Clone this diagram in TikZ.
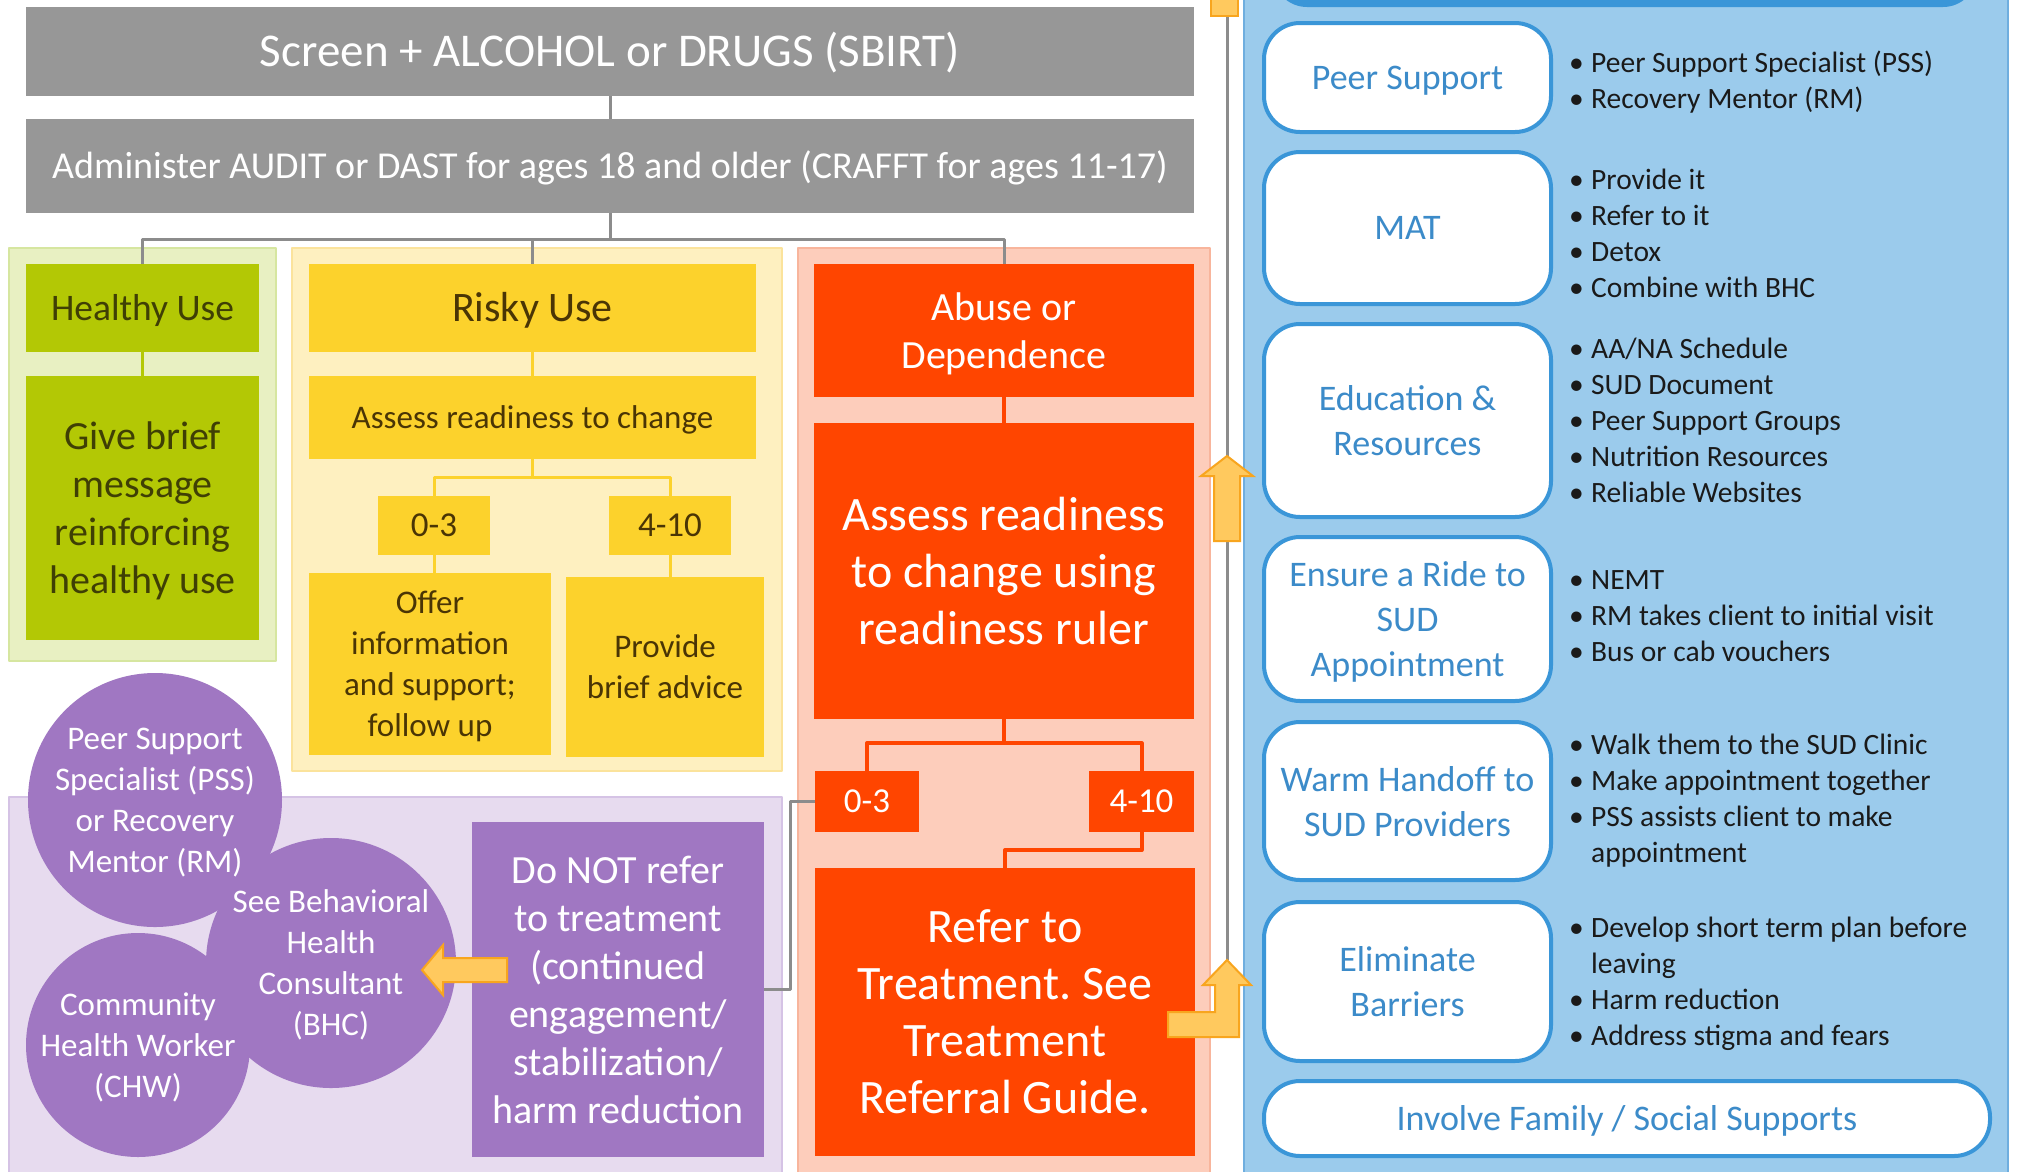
\documentclass[tikz,border=0pt]{standalone}
\usepackage{fontspec}
\setmainfont{Carlito}
\usepackage{xcolor}
\usetikzlibrary{positioning,calc}
\definecolor{sbgray}{HTML}{979797}
\definecolor{linegray}{HTML}{8C8C8C}
\definecolor{limegreen}{HTML}{B3C805}
\definecolor{palegreen}{HTML}{E8F0C2}
\definecolor{greenedge}{HTML}{D6E6A0}
\definecolor{olivetext}{HTML}{3F3F05}
\definecolor{sunyellow}{HTML}{FCD22C}
\definecolor{paleyellow}{HTML}{FEF0C0}
\definecolor{yellowedge}{HTML}{FBE39C}
\definecolor{risktext}{HTML}{4A3505}
\definecolor{hotorange}{HTML}{FF4500}
\definecolor{paleorange}{HTML}{FDCDBB}
\definecolor{orangeedge}{HTML}{F8B59C}
\definecolor{lilac}{HTML}{A077C2}
\definecolor{palelilac}{HTML}{E7DBEF}
\definecolor{lilacedge}{HTML}{D5C3E5}
\definecolor{skyblue}{HTML}{9BCBEC}
\definecolor{blueedge}{HTML}{6FAEDF}
\definecolor{deepblue}{HTML}{3A96D8}
\definecolor{labelblue}{HTML}{3C8BC9}
\definecolor{listtext}{HTML}{1A1A1A}
\definecolor{arrowfill}{HTML}{FFC95E}
\definecolor{arrowedge}{HTML}{F8A51E}
\frenchspacing
\newcommand{\fsz}[2]{\fontsize{#1}{#2}\selectfont}
\newcommand{\bitem}[1]{\makebox[22pt][l]{\textbullet}#1}
\newcommand{\bcont}[1]{\makebox[22pt][l]{}#1}
\tikzset{%
       region/.style = { line width=1.5pt },
      graybox/.style = { fill=sbgray, text=white, align=center, text depth=0pt },
     greenbox/.style = { fill=limegreen, text=olivetext, align=center, text depth=0pt },
    yellowbox/.style = { fill=sunyellow, text=risktext, align=center, text depth=0pt },
    orangebox/.style = { fill=hotorange, text=white, align=center, text depth=0pt },
    purplebox/.style = { fill=lilac, text=white, align=center, text depth=0pt },
      oneline/.style = { text height=#1, text depth=0pt },
       bubble/.style = { circle, fill=lilac, inner sep=0pt },
   bubbletext/.style = { text=white, align=center, font=\fsz{33}{41}, text depth=0pt },
       option/.style = { draw=deepblue, line width=4pt, fill=white, rounded corners=36pt,
                         text=labelblue, align=center, font=\fsz{36}{45}, text depth=0pt,
                         minimum width=287, inner sep=0pt },
      bullets/.style = { anchor=west, align=left, inner sep=0pt,
                         text=listtext, font=\fsz{29.5}{36} },
     grayline/.style = { draw=linegray, line width=3pt },
    greenline/.style = { draw=limegreen, line width=3pt },
   yellowline/.style = { draw=sunyellow, line width=3pt },
   orangeline/.style = { draw=hotorange, line width=4pt },
   blockarrow/.style = { fill=arrowfill, draw=arrowedge, line width=2pt, line join=miter }
}
\begin{document}
\begin{tikzpicture}[x=1pt,y=-1pt,line join=round]
\useasboundingbox (0,0) rectangle (2017,1171);
\fill[white] (0,0) rectangle (2017,1171);
% backdrops
\draw[region, fill=palegreen, draw=greenedge] (9,248) rectangle (276,661);
\draw[region, fill=paleyellow, draw=yellowedge] (292,248) rectangle (782,771);
\draw[region, fill=paleorange, draw=orangeedge] (798,248) rectangle (1210,1190);
\draw[region, fill=palelilac, draw=lilacedge] (9,797) rectangle (782,1190);
\draw[region, fill=skyblue, draw=blueedge] (1244,-20) rectangle (2008,1190);
\fill[deepblue, rounded corners=34pt] (1273,-80) rectangle (1977,7);
% screening
\node[graybox, oneline=30pt, minimum width=1168, minimum height=89, font=\fsz{47}{56}] (screen) at (610,51.5) {Screen + ALCOHOL or DRUGS (SBIRT)};
\node[graybox, oneline=24pt, minimum width=1168, minimum height=94, font=\fsz{38}{46}] (admin) at (610,166) {Administer AUDIT or DAST for ages 18 and older (CRAFFT for ages 11-17)};
% healthy
\node[greenbox, oneline=24pt, minimum width=233, minimum height=88, font=\fsz{37.5}{46}] (healthy) at (142.5,308) {Healthy Use};
\node[greenbox, minimum width=233, minimum height=264, font=\fsz{40}{48}] (givebrief) at (142.5,508) {Give brief\\message\\reinforcing\\healthy use};
% risky
\node[yellowbox, oneline=27pt, minimum width=447, minimum height=88, font=\fsz{42}{50}] (risky) at (532.5,308) {Risky Use};
\node[yellowbox, oneline=21pt, minimum width=447, minimum height=83, font=\fsz{33}{41}] (assesschange) at (532.5,417.5) {Assess readiness to change};
\node[yellowbox, oneline=22pt, minimum width=112, minimum height=59, font=\fsz{35}{41}] (ylow) at (434,525.5) {0-3};
\node[yellowbox, oneline=22pt, minimum width=122, minimum height=59, font=\fsz{35}{41}] (yhigh) at (670,525.5) {4-10};
\node[yellowbox, minimum width=242, minimum height=182, font=\fsz{33}{41}] (offer) at (430,664) {Offer\\information\\and support;\\follow up};
\node[yellowbox, minimum width=198, minimum height=180, font=\fsz{33}{41}] (provide) at (665,667) {Provide\\brief advice};
% abuse
\node[orangebox, minimum width=380, minimum height=133, font=\fsz{40}{48}] (abuse) at (1004,330.5) {Abuse or\\Dependence};
\node[orangebox, minimum width=380, minimum height=296, font=\fsz{48}{57}] (ruler) at (1004,571) {Assess readiness\\to change using\\readiness ruler};
\node[orangebox, oneline=22pt, minimum width=104, minimum height=61, font=\fsz{35}{41}] (olow) at (867,801.5) {0-3};
\node[orangebox, oneline=22pt, minimum width=105, minimum height=61, font=\fsz{35}{41}] (ohigh) at (1141.5,801.5) {4-10};
\node[orangebox, minimum width=380, minimum height=288, font=\fsz{48}{57}] (refer) at (1005,1012) {Refer to\\Treatment. See\\Treatment\\Referral Guide.};
% support team
\node[bubble, minimum size=254] (pss) at (155,800) {};
\node[bubble, minimum size=224] (chw) at (138,1045) {};
\node[bubble, minimum size=250] (bhc) at (331,963) {};
\node[bubbletext] (psstext) at (pss) {Peer Support\\Specialist (PSS)\\or Recovery\\Mentor (RM)};
\node[bubbletext] (bhctext) at (bhc) {See Behavioral\\Health\\Consultant\\(BHC)};
\node[bubbletext] (chwtext) at (chw) {Community\\Health Worker\\(CHW)};
\node[purplebox, minimum width=292, minimum height=335, font=\fsz{40}{48}] (donot) at (618,989.5) {Do NOT refer\\to treatment\\(continued\\engagement/\\stabilization/\\harm reduction};
% connectors
\coordinate (fork) at ($(admin.south)+(0,26)$);
\draw[grayline] (screen.south) -- (admin.north);
\draw[grayline] (admin.south) -- (fork) -| (healthy.north);
\draw[grayline] (fork) -| (risky.north);
\draw[grayline] (fork) -| (abuse.north);
\draw[greenline] (healthy.south) -- (givebrief.north);
\draw[yellowline] (risky.south) -- (assesschange.north);
\coordinate (yfork) at ($(assesschange.south)+(0,18)$);
\draw[yellowline] (assesschange.south) -- (yfork) -| (ylow.north);
\draw[yellowline] (yfork) -| (yhigh.north);
\draw[yellowline] (ylow.south) -- (ylow.south |- offer.north);
\draw[yellowline] (yhigh.south) -- (yhigh.south |- provide.north);
\draw[orangeline] (abuse.south) -- (ruler.north);
\coordinate (ofork) at ($(ruler.south)+(0,24)$);
\draw[orangeline] (ruler.south) -- (ofork) -| (olow.north);
\draw[orangeline] (ofork) -| (ohigh.north);
\draw[orangeline] (ohigh.south) -- ++(0,18) -| (refer.north);
\draw[grayline] (donot.east) -- ++(26,0) |- (olow.west);
% feedback line and block arrows
\coordinate (elbowtip) at (1227,960);
\coordinate (feedtop) at (1227,16);
\draw[grayline] (elbowtip) -- (feedtop);
\draw[blockarrow] (1211,-30) rectangle (1238,16);
\draw[blockarrow] (1214,541) -- (1214,476) -- (1201,476) -- (1227,456) -- (1253,476) -- (1240,476) -- (1240,541) -- cycle;
\draw[blockarrow] (1168,1012) -- (1215,1012) -- (1215,985) -- (1203,985) -- (elbowtip) -- (1251,985) -- (1239,985) -- (1239,1037) -- (1168,1037) -- cycle;
\draw[blockarrow] (507,958) -- (443,958) -- (443,945) -- (422,970) -- (443,995) -- (443,982) -- (507,982) -- cycle;
% options
\node[option, oneline=23pt, minimum height=109] (peer) at (1407.5,77.5) {Peer Support};
\node[option, oneline=23pt, minimum height=152] (mat) at (1407.5,228) {MAT};
\node[option, minimum height=193] (edu) at (1407.5,420.5) {Education \&\\Resources};
\node[option, minimum height=164] (ride) at (1407.5,619) {Ensure a Ride to\\SUD\\Appointment};
\node[option, minimum height=158] (warm) at (1407.5,801) {Warm Handoff to\\SUD Providers};
\node[option, minimum height=159] (elim) at (1407.5,981.5) {Eliminate\\Barriers};
\node[option, oneline=23pt, minimum width=726, minimum height=75] (family) at (1627,1118.5) {Involve Family / Social Supports};
\node[bullets, right=16pt of peer, yshift=-5pt] (peerlist) {\bitem{Peer Support Specialist (PSS)}\\\bitem{Recovery Mentor (RM)}};
\node[bullets, right=16pt of mat, yshift=-5pt] (matlist) {\bitem{Provide it}\\\bitem{Refer to it}\\\bitem{Detox}\\\bitem{Combine with BHC}};
\node[bullets, right=16pt of edu] (edulist) {\bitem{AA/NA Schedule}\\\bitem{SUD Document}\\\bitem{Peer Support Groups}\\\bitem{Nutrition Resources}\\\bitem{Reliable Websites}};
\node[bullets, right=16pt of ride, yshift=3pt] (ridelist) {\bitem{NEMT}\\\bitem{RM takes client to initial visit}\\\bitem{Bus or cab vouchers}};
\node[bullets, right=16pt of warm] (warmlist) {\bitem{Walk them to the SUD Clinic}\\\bitem{Make appointment together}\\\bitem{PSS assists client to make}\\\bcont{appointment}};
\node[bullets, right=16pt of elim, yshift=-2pt] (elimlist) {\bitem{Develop short term plan before}\\\bcont{leaving}\\\bitem{Harm reduction}\\\bitem{Address stigma and fears}};
\end{tikzpicture}
\end{document}
